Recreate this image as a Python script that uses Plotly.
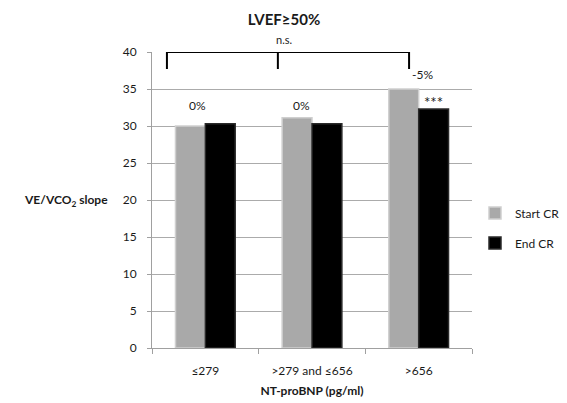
import plotly.graph_objects as go

categories = ["≤279", ">279 and ≤656", ">656"]
start_cr = [30.0, 31.1, 35.0]
end_cr = [30.3, 30.3, 32.3]
series_names = ["Start CR", "End CR"]
change_labels = ["0%", "0%", "-5%"]
sig_label = "***"
y_ticks = [0, 5, 10, 15, 20, 25, 30, 35, 40]

FONT = "Lato, 'Open Sans', sans-serif"
TXT = "#1a1a1a"

fig = go.Figure()
fig.add_trace(go.Bar(
    x=categories, y=start_cr, name=series_names[0], legendgroup="a",
    marker=dict(color="#a9a9a9", line=dict(color="#cfcfcf", width=1.5)),
))
fig.add_trace(go.Bar(
    x=categories, y=end_cr, name=series_names[1], legendgroup="b",
    marker=dict(color="#000000", line=dict(color="#2a2a2a", width=1.5)),
))

# percentage change annotations
ann_pos = [(-0.07, 32.8), (0.9, 32.8), (2.04, 36.9)]
for lab, (ax, ay) in zip(change_labels, ann_pos):
    fig.add_annotation(x=ax, y=ay, xref="x", yref="y", text=lab, showarrow=False,
                       font=dict(family=FONT, size=12, color=TXT))
fig.add_annotation(x=2.14, y=33.2, xref="x", yref="y", text=sig_label, showarrow=False,
                   font=dict(family=FONT, size=15, color=TXT))

# significance bracket
bx = [-0.36, 0.68, 1.91]
ytop, ybot = 40, 37.7
fig.add_shape(type="line", x0=bx[0], x1=bx[2], y0=ytop, y1=ytop, xref="x", yref="y",
              line=dict(color="black", width=2))
for b in bx:
    fig.add_shape(type="line", x0=b, x1=b, y0=ytop, y1=ybot, xref="x", yref="y",
                  line=dict(color="black", width=2))
fig.add_annotation(x=(284 - 152) / 320, y=1.0, xref="paper", yref="paper", yanchor="bottom",
                   yshift=4, text="n.s.", showarrow=False,
                   font=dict(family=FONT, size=11, color=TXT))

# y-axis title (horizontal)
fig.add_annotation(x=-0.131, y=0.5, xref="paper", yref="paper", xanchor="right",
                   text="<b>VE/VCO<sub>2</sub> slope</b>", showarrow=False,
                   font=dict(family=FONT, size=12, color=TXT))

fig.update_layout(
    width=567, height=403,
    margin=dict(l=152, r=95, t=52, b=55, autoexpand=False),
    paper_bgcolor="white", plot_bgcolor="white",
    barmode="group", bargap=0.44, bargroupgap=0,
    title=dict(text="<b>LVEF≥50%</b>", x=284/567, xanchor="center", y=1-20/403, yanchor="middle",
               font=dict(family=FONT, size=15, color=TXT)),
    font=dict(family=FONT, size=12, color=TXT),
    legend=dict(x=(565 - 152) / 320, y=0.405, xanchor="right", yanchor="middle",
                font=dict(family=FONT, size=12, color=TXT), tracegroupgap=11,
                itemwidth=30, bgcolor="rgba(0,0,0,0)"),
    xaxis=dict(
        automargin=False,
        showline=True, linecolor="#a0a0a0", linewidth=1,
        ticks="outside", tickson="boundaries", ticklen=5, tickcolor="#a0a0a0",
        ticklabelstandoff=12,
        title=dict(text="<b>NT-proBNP (pg/ml)</b>", font=dict(family=FONT, size=12, color=TXT), standoff=9),
        tickfont=dict(family=FONT, size=12, color=TXT),
    ),
    yaxis=dict(
        automargin=False,
        range=[0, 40], tickvals=y_ticks, showgrid=True, gridcolor="#ababab", gridwidth=1,
        showline=True, linecolor="#a0a0a0", linewidth=1,
        ticks="outside", ticklen=4, tickcolor="#a0a0a0", ticklabelstandoff=8,
        zeroline=False, tickfont=dict(family=FONT, size=12, color=TXT),
    ),
)

fig.write_html("out.html")
